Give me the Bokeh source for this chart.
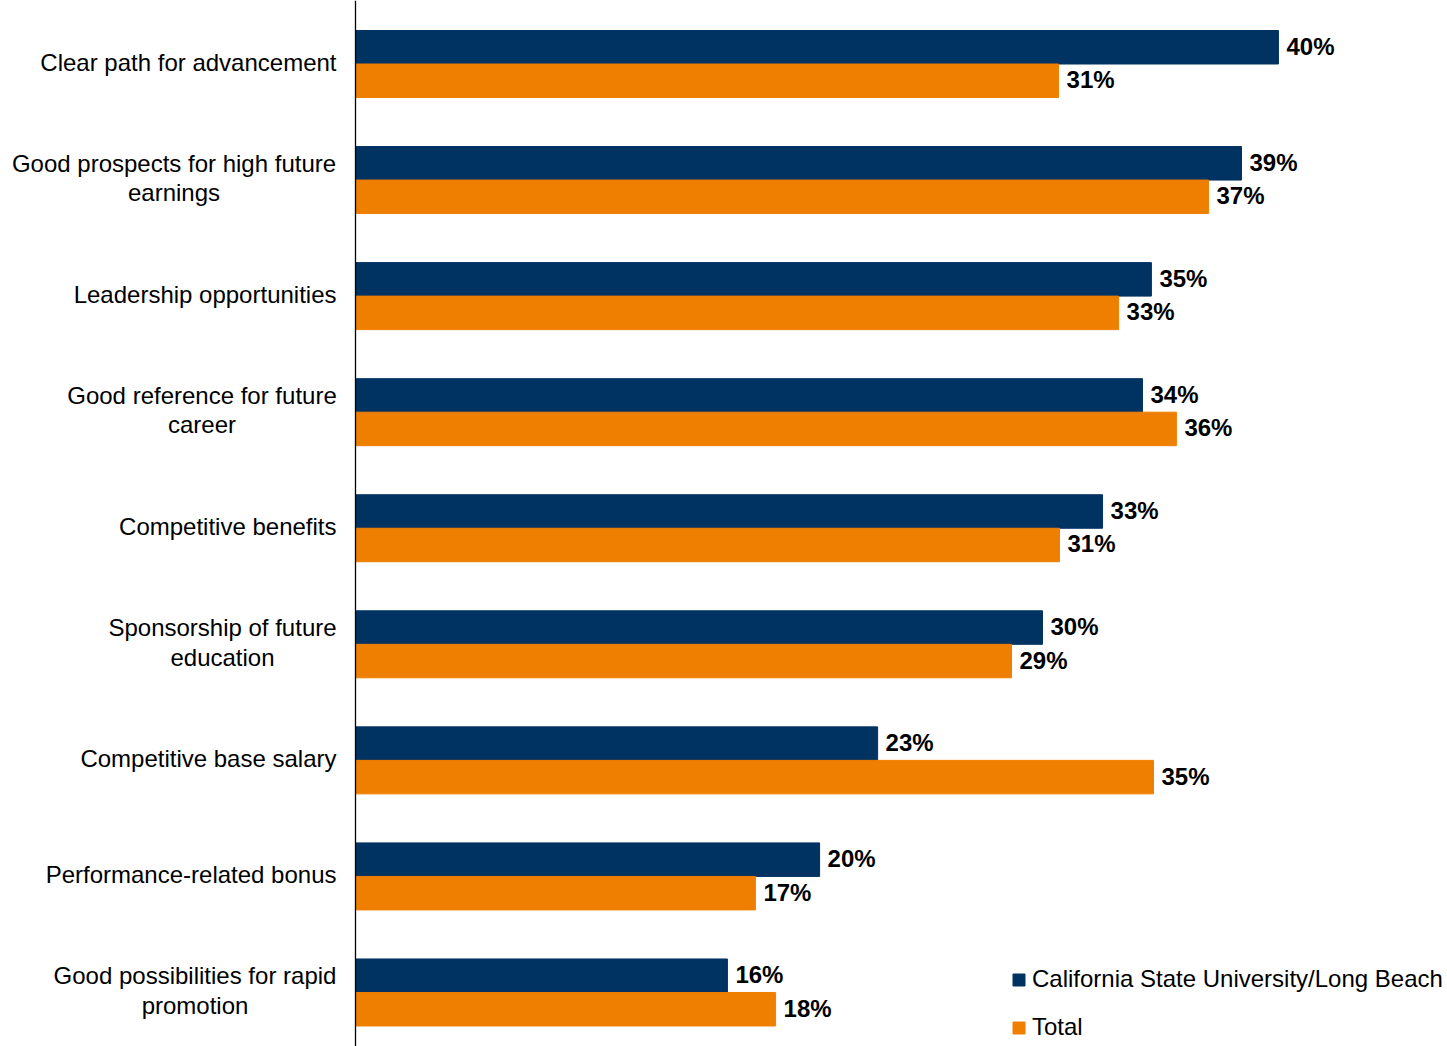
from bokeh.plotting import figure
from bokeh.models import Range1d, Span, Legend, LegendItem, ColumnDataSource
from bokeh.core.properties import value
from bokeh.embed import file_html
from bokeh.resources import INLINE

# ---------------- data ----------------
categories = [
    "Clear path for advancement",
    "Good prospects for high future\nearnings",
    "Leadership opportunities",
    "Good reference for future\ncareer",
    "Competitive benefits",
    "Sponsorship of future\neducation",
    "Competitive base salary",
    "Performance-related bonus",
    "Good possibilities for rapid\npromotion",
]
csulb = [40.25, 38.64, 34.71, 34.32, 32.58, 29.96, 22.77, 20.24, 16.22]
total = [30.66, 37.20, 33.28, 35.80, 30.70, 28.61, 34.80, 17.44, 18.32]
series_names = ["California State University/Long Beach", "Total"]

# ---------------- style / layout ----------------
BLUE = "#003262"
ORANGE = "#EF7F00"
FONT = "Liberation Sans"
W, H = 1447, 1046
PX_PER_PCT = 22.93          # horizontal scale
ZERO_PX = 355               # frame x of the value axis line
ROW_PX = 116.06             # vertical distance between categories
FIRST_ROW_PX = 63.5         # frame y of first category centre
BAR_H = 33.5 / ROW_PX

x_start = -ZERO_PX / PX_PER_PCT
x_end = (W - ZERO_PX) / PX_PER_PCT
y_top = -FIRST_ROW_PX / ROW_PX
y_bottom = (H - FIRST_ROW_PX) / ROW_PX

p = figure(width=W, height=H, output_backend="svg", toolbar_location=None,
           x_range=Range1d(x_start, x_end), y_range=Range1d(y_bottom, y_top),
           x_axis_location=None, y_axis_location=None, min_border=0)
p.outline_line_color = None
p.xgrid.visible = False
p.ygrid.visible = False
p.background_fill_color = "white"
p.border_fill_color = "white"

idx = list(range(len(categories)))
off = BAR_H / 2
src_b = ColumnDataSource(dict(y=[i - off for i in idx], v=csulb,
                              lab=[f"{round(v)}%" for v in csulb]))
src_o = ColumnDataSource(dict(y=[i + off for i in idx], v=total,
                              lab=[f"{round(v)}%" for v in total]))

rb = p.hbar(y="y", left=0, right="v", height=BAR_H, color=BLUE, source=src_b)
ro = p.hbar(y="y", left=0, right="v", height=BAR_H, color=ORANGE, source=src_o)

for s in (src_b, src_o):
    p.text(x="v", y="y", text="lab", source=s, x_offset=8, y_offset=-1,
           text_font=value(FONT), text_font_size=value("24px"),
           text_font_style="bold", text_color="#000000",
           text_align="left", text_baseline="middle")

# value axis line
p.add_layout(Span(location=0, dimension="height", line_color="#000000", line_width=1.3))

# category labels (right edge 19px left of axis; two-line labels centred)
label_right_px = -19
multi_centre_px = {1: -181.5, 3: -153.5, 5: -133.0, 8: -160.5}
single = [i for i in idx if "\n" not in categories[i]]
multi = [i for i in idx if "\n" in categories[i]]
p.text(x=[label_right_px / PX_PER_PCT] * len(single), y=single,
       text=[categories[i] for i in single], y_offset=-2,
       text_font=value(FONT), text_font_size=value("24px"), text_color="#000000",
       text_align="right", text_baseline="middle")
p.text(x=[multi_centre_px[i] / PX_PER_PCT for i in multi], y=multi,
       text=[categories[i] for i in multi], y_offset=-2,
       text_font=value(FONT), text_font_size=value("24px"), text_color="#000000",
       text_align="center", text_baseline="middle", text_line_height=1.09)

legend = Legend(items=[LegendItem(label=series_names[0], renderers=[rb]),
                       LegendItem(label=series_names[1], renderers=[ro])],
                location=(1011, 5), orientation="vertical",
                glyph_width=15, glyph_height=15, label_standoff=6,
                label_text_font=FONT, label_text_font_size="24px",
                label_text_color="#000000", spacing=20, padding=0, margin=0,
                border_line_color=None, background_fill_alpha=0)
p.add_layout(legend)

open("out.html", "w").write(file_html(p, INLINE))
